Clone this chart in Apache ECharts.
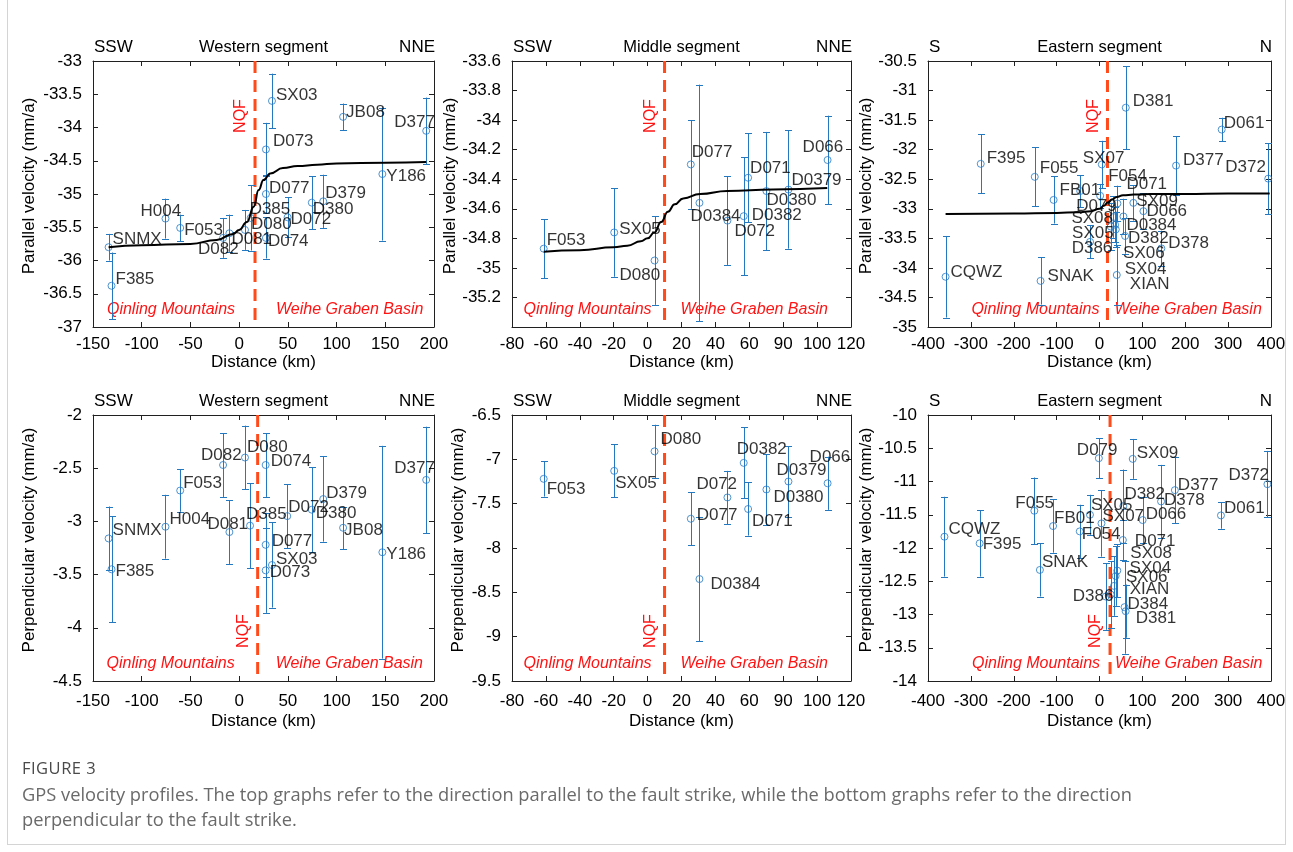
<!DOCTYPE html>
<html>
<head>
<meta charset="utf-8">
<script src="https://cdn.jsdelivr.net/npm/echarts@6/dist/echarts.min.js"></script>
<style>
html,body{margin:0;padding:0;background:#fff;}
#frame{position:absolute;left:7px;top:-2px;width:1279px;height:847px;border:1px solid #d4d4d4;box-sizing:border-box;}
#chart{position:absolute;left:0;top:0;width:1293px;height:852px;}
#fig{position:absolute;left:22px;top:757px;font-family:"Open Sans",sans-serif;font-size:16.5px;color:#4a4a4a;letter-spacing:0.5px;line-height:22px;white-space:nowrap;}
#cap{position:absolute;left:22px;top:781px;font-family:"Open Sans",sans-serif;font-size:18.3px;color:#6a6a6a;line-height:25px;white-space:nowrap;}
</style>
</head>
<body>
<div id="frame"></div>
<div id="chart"></div>
<div id="fig">FIGURE 3</div>
<div id="cap">GPS velocity profiles. The top graphs refer to the direction parallel to the fault strike, while the bottom graphs refer to the direction<br>perpendicular to the fault strike.</div>
<script>
// ---------------- DATA ----------------
// tick labels
const xTicksW = ['-150','-100','-50','0','50','100','150','200'];
const xTicksM = ['-80','-60','-40','-20','0','20','40','60','90','100','120'];
const xTicksE = ['-400','-300','-200','-100','0','100','200','300','400'];
const yTicksWPar = ['-37','-36.5','-36','-35.5','-35','-34.5','-34','-33.5','-33'];
const yTicksMPar = ['','-35.2','-35','-34.8','-34.6','-34.4','-34.2','-34','-33.8','-33.6'];
const yTicksEPar = ['-35','-34.5','-34','-33.5','-33','-32.5','-32','-31.5','-31','-30.5'];
const yTicksWPer = ['-4.5','-4','-3.5','-3','-2.5','-2'];
const yTicksMPer = ['-9.5','-9','-8.5','-8','-7.5','-7','-6.5'];
const yTicksEPer = ['-14','-13.5','-13','-12.5','-12','-11.5','-11','-10.5','-10'];

// NQF fault position (km) per panel: WPar, MPar, EPar, WPer, MPer, EPer
const nqfPos = [16.3, 10, 18.6, 19, 10, 24.6];

// Western segment, parallel
const wParNames = ['SNMX','F385','H004','F053','D082','D081','D080','D385','D077','D073','D074','SX03','D072','D380','D379','JB08','Y186','D377'];
const wParDist  = [-134,-131,-75.6,-60.5,-16.5,-10,6,11.8,27.5,27.5,27.5,33.7,49.7,74.6,86.3,106.7,147,192];
const wParVel   = [-35.80,-36.38,-35.37,-35.51,-35.66,-35.59,-35.54,-35.36,-35.00,-34.33,-35.66,-33.60,-35.35,-35.13,-35.11,-33.84,-34.70,-34.05];
const wParErr   = [0.2,0.5,0.3,0.2,0.3,0.28,0.3,0.49,0.29,0.4,0.31,0.41,0.3,0.4,0.4,0.2,1.0,0.5];
const wCurveDist = [-134,-100,-50,-23,-6,0,8,15,20,25,32,45,60,80,100,150,192];
const wCurveVel  = [-35.80,-35.77,-35.75,-35.69,-35.60,-35.54,-35.42,-35.19,-34.94,-34.79,-34.69,-34.61,-34.58,-34.56,-34.54,-34.53,-34.52];

// Middle segment, parallel
const mParNames = ['F053','SX05','D080','D077','D0384','D072','D0382','D071','D0380','D0379','D066'];
const mParDist  = [-61.3,-19.7,4.1,25.5,30.6,47.1,56.7,59.3,70.1,83.1,106.2];
const mParVel   = [-34.87,-34.76,-34.95,-34.30,-34.56,-34.68,-34.65,-34.39,-34.48,-34.47,-34.27];
const mParErr   = [0.2,0.3,0.3,0.3,0.8,0.3,0.4,0.3,0.4,0.4,0.3];
const mCurveDist = [-61.3,-40,-20,-12,-4,0,4,8,12,16,21,31,47,74,106];
const mCurveVel  = [-34.89,-34.88,-34.86,-34.85,-34.82,-34.80,-34.76,-34.69,-34.62,-34.57,-34.53,-34.50,-34.48,-34.47,-34.46];

// Eastern segment, parallel
const eParNames = ['CQWZ','F395','F055','SNAK','FB01','F054','SX05','D079','SX07','D386','SX08','SX06','SX04','XIAN','D071','D0384','D382','D381','SX09','D066','D378','D377','D061','D372'];
const eParDist  = [-359,-277,-151,-137.5,-107,-45,-22,1.5,5.4,26,32.5,36.4,40.3,38,41.8,55.8,59.7,61.3,79,102.4,144.3,178.5,285,393.6];
const eParVel   = [-34.15,-32.24,-32.46,-34.22,-32.85,-32.70,-33.56,-32.78,-32.25,-33.30,-33.14,-33.27,-34.12,-33.35,-32.91,-33.13,-33.46,-31.29,-32.90,-33.04,-33.67,-32.27,-31.66,-32.49];
const eParErr   = [0.69,0.5,0.5,0.4,0.4,0.27,0.28,0.2,0.4,0.4,0.35,0.3,0.5,0.3,0.3,0.3,0.3,0.7,0.3,0.3,0.3,0.5,0.2,0.6];
const eCurveDist = [-359,-200,-100,-50,-20,0,10,20,30,40,55,80,120,200,300,397];
const eCurveVel  = [-33.09,-33.08,-33.07,-33.06,-33.04,-33.00,-32.95,-32.89,-32.84,-32.80,-32.77,-32.76,-32.75,-32.75,-32.74,-32.74];

// Western segment, perpendicular
const wPerNames = ['SNMX','F385','H004','F053','D082','D081','D080','D385','D074','D077','D073','SX03','D072','D380','D379','JB08','Y186','D377'];
const wPerDist  = [-134,-131,-75.6,-60.5,-16.5,-10,6,11.2,27.2,27.2,27.2,33.7,49.4,74.6,86.3,106.7,147,192];
const wPerVel   = [-3.16,-3.45,-3.05,-2.71,-2.47,-3.10,-2.40,-3.04,-2.47,-3.22,-3.46,-3.41,-2.95,-2.89,-2.79,-3.06,-3.29,-2.61];
const wPerErr   = [0.3,0.5,0.3,0.2,0.3,0.3,0.3,0.4,0.3,0.3,0.4,0.4,0.3,0.4,0.4,0.2,1.0,0.5];

// Middle segment, perpendicular
const mPerNames = ['F053','SX05','D080','D077','D0384','D072','D0382','D071','D0380','D0379','D066'];
const mPerDist  = [-61.3,-19.7,4.1,25.5,30.6,47.1,56.7,59.3,70.1,83.1,106.2];
const mPerVel   = [-7.22,-7.13,-6.91,-7.67,-8.35,-7.43,-7.04,-7.56,-7.34,-7.25,-7.27];
const mPerErr   = [0.2,0.3,0.3,0.3,0.7,0.3,0.4,0.3,0.4,0.4,0.3];

// Eastern segment, perpendicular
const ePerNames = ['CQWZ','F395','F055','SNAK','FB01','F054','SX05','D079','SX07','D386','XIAN','SX06','SX04','SX08','D071','D382','D384','D381','SX09','D066','D378','D377','D061','D372'];
const ePerDist  = [-361.6,-279.5,-152,-139,-108.3,-46,-22.3,-1.5,4.6,14.6,26.1,33.8,37.6,41.5,54.5,55.7,58.4,61,77.5,100.6,143.6,175.8,283.3,391.6];
const ePerVel   = [-11.83,-11.93,-11.44,-12.33,-11.67,-11.75,-11.50,-10.65,-11.63,-12.73,-12.70,-12.57,-12.42,-12.34,-11.88,-11.37,-12.89,-12.95,-10.66,-11.58,-11.30,-11.13,-11.51,-11.04];
const ePerErr   = [0.6,0.5,0.5,0.4,0.4,0.4,0.3,0.3,0.5,0.5,0.5,0.45,0.45,0.4,0.3,0.55,0.7,0.4,0.3,0.35,0.55,0.5,0.2,0.5];

// ---------------- STYLE (label offsets in px, layout) ----------------
const offWPar = {SNMX:[4,-8],F385:[4,-6],H004:[-25,-7],F053:[4,2],D082:[-25,11],D081:[2,6],D080:[6,-6],D385:[-1,-9],D077:[3,-6],D073:[7,-8],D074:[2,3],SX03:[4,-6],D072:[3,2],D380:[1,7],D379:[2,-8],JB08:[3,-5],Y186:[4,2],D377:[-32,-9]};
const offMPar = {F053:[3,-8],SX05:[5,-3],D080:[-35,15],D077:[1,-12],D0384:[-9,13],D072:[7,11],D0382:[8,-1],D071:[2,-9],D0380:[0,9],D0379:[3,-9],D066:[-25,-13]};
const offEPar = {CQWZ:[5,-4],F395:[6,-6],F055:[5,-9],SNAK:[7,-5],FB01:[6,-10],F054:[28,-15],SX05:[-18,-9],D079:[-24,11],SX07:[-19,-6],D386:[-39,22],SX08:[-42,1],SX06:[8,29],SX04:[8,-6],XIAN:[14,55],D071:[9,-19],D0384:[3,9],D382:[3,2],D381:[7,-6],SX09:[3,-2],D066:[3,0],D378:[7,-5],D377:[7,-5],D061:[2,-6],D372:[-43,-11]};
const offWPer = {SNMX:[4,-8],F385:[4,2],H004:[4,-7],F053:[3,-7],D082:[-22,-10],D081:[-22,-8],D080:[2,-10],D385:[-4,-11],D074:[5,-4],D077:[6,-3],D073:[4,2],SX03:[4,-6],D072:[1,-9],D380:[4,4],D379:[3,-6],JB08:[1,3],Y186:[4,2],D377:[-32,-12]};
const offMPer = {F053:[3,10],SX05:[1,12],D080:[6,-12],D077:[6,-3],D0384:[11,5],D072:[-31,-13],D0382:[-7,-14],D071:[4,12],D0380:[7,8],D0379:[-12,-11],D066:[-18,-26]};
const offEPer = {CQWZ:[4,-7],F395:[3,1],F055:[-19,-7],SNAK:[2,-8],FB01:[1,-8],F054:[2,3],SX05:[1,-9],D079:[-22,-8],SX07:[1,-7],D386:[-33,0],XIAN:[19,-5],SX06:[12,-9],SX04:[14,-8],SX08:[13,-17],D071:[12,1],D382:[1,-12],D384:[3,-3],D381:[10,7],SX09:[4,-6],D066:[3,-6],D378:[3,-1],D377:[3,-5],D061:[3,-7],D372:[-39,-9]};

const FONT = 'Arial, "Liberation Sans", Helvetica, sans-serif';
const BLUE = '#2378c0';
const AX = '#202020';
const TXT = '#000000';
const NQF_C = '#ff4a1a';
const RED = '#ff1414';

const colX = [{left:93,width:341},{left:512,width:339},{left:928,width:343}];
const rowY = [{top:61,height:266},{top:415,height:266}];

const panels = [
  {c:0,r:0,xt:xTicksW,xmin:-150,xmax:200,xi:50,yt:yTicksWPar,ymin:-37,ymax:-33,yi:0.5,yName:'Parallel velocity (mm/a)',yGap:55,names:wParNames,dist:wParDist,vel:wParVel,err:wParErr,cd:wCurveDist,cv:wCurveVel,nqf:nqfPos[0],ends:['SSW','NNE'],title:'Western segment',off:offWPar,reg:[-20,21]},
  {c:1,r:0,xt:xTicksM,xmin:-80,xmax:120,xi:20,yt:yTicksMPar,ymin:-35.4,ymax:-33.6,yi:0.2,yName:'Parallel velocity (mm/a)',yGap:45,names:mParNames,dist:mParDist,vel:mParVel,err:mParErr,cd:mCurveDist,cv:mCurveVel,nqf:nqfPos[1],ends:['SSW','NNE'],title:'Middle segment',off:offMPar,reg:[-13,16]},
  {c:2,r:0,xt:xTicksE,xmin:-400,xmax:400,xi:100,yt:yTicksEPar,ymin:-35,ymax:-30.5,yi:0.5,yName:'Parallel velocity (mm/a)',yGap:47,names:eParNames,dist:eParDist,vel:eParVel,err:eParErr,cd:eCurveDist,cv:eCurveVel,nqf:nqfPos[2],ends:['S','N'],title:'Eastern segment',off:offEPar,reg:[-8,7]},
  {c:0,r:1,xt:xTicksW,xmin:-150,xmax:200,xi:50,yt:yTicksWPer,ymin:-4.5,ymax:-2,yi:0.5,yName:'Perpendicular velocity (mm/a)',yGap:55,names:wPerNames,dist:wPerDist,vel:wPerVel,err:wPerErr,nqf:nqfPos[3],ends:['SSW','NNE'],title:'Western segment',off:offWPer,reg:[-23,18]},
  {c:1,r:1,xt:xTicksM,xmin:-80,xmax:120,xi:20,yt:yTicksMPer,ymin:-9.5,ymax:-6.5,yi:0.5,yName:'Perpendicular velocity (mm/a)',yGap:45,names:mPerNames,dist:mPerDist,vel:mPerVel,err:mPerErr,nqf:nqfPos[4],ends:['SSW','NNE'],title:'Middle segment',off:offMPer,reg:[-13,16]},
  {c:2,r:1,xt:xTicksE,xmin:-400,xmax:400,xi:100,yt:yTicksEPer,ymin:-14,ymax:-10,yi:0.5,yName:'Perpendicular velocity (mm/a)',yGap:46,names:ePerNames,dist:ePerDist,vel:ePerVel,err:ePerErr,nqf:nqfPos[5],ends:['S','N'],title:'Eastern segment',off:offEPer,reg:[-10,5]}
];

function tickFmt(arr, min, step){ return function(v){ const i=Math.round((v-min)/step); return (i>=0&&i<arr.length)?arr[i]:''; }; }

function errRender(params, api){
  const x=api.value(0), y=api.value(1), e=api.value(2);
  const t=api.coord([x,y+e]), b=api.coord([x,y-e]);
  const cx=Math.round(t[0])+0.5, cw=3.5;
  const st={stroke:BLUE,lineWidth:1};
  return {type:'group',children:[
    {type:'line',shape:{x1:cx,y1:t[1],x2:cx,y2:b[1]},style:st},
    {type:'line',shape:{x1:cx-cw,y1:Math.round(t[1])+0.5,x2:cx+cw,y2:Math.round(t[1])+0.5},style:st},
    {type:'line',shape:{x1:cx-cw,y1:Math.round(b[1])+0.5,x2:cx+cw,y2:Math.round(b[1])+0.5},style:st}
  ]};
}

function decorRender(p){
  return function(params, api){
    const cs=params.coordSys;
    const lx=api.coord([api.value(0), api.value(1)])[0];
    const top=cs.y, bot=cs.y+cs.height, left=cs.x, right=cs.x+cs.width;
    const font='16px '+FONT, ifont='italic 16px '+FONT;
    const T=(text,x,y,align,fill,f,rot)=>({type:'text',x:x,y:y,rotation:rot||0,style:{text:text,align:align,verticalAlign:'middle',fill:fill,font:f}});
    const ch=[];
    ch.push({type:'line',shape:{x1:lx,y1:top,x2:lx,y2:bot},style:{stroke:NQF_C,lineWidth:3,lineDash:[12,7]}});
    ch.push(T(p.ends[0],left+1,top-14,'left',TXT,'17px '+FONT));
    ch.push(T(p.ends[1],right+1,top-14,'right',TXT,'17px '+FONT));
    ch.push(T(p.title,(left+right)/2,top-14,'center',TXT,'16.5px '+FONT));
    const ny = p.r===0 ? top+55 : bot-50;
    ch.push(T('NQF',lx-14,ny,'center',RED,font,Math.PI/2));
    const ry = bot-17;
    ch.push(T('Qinling Mountains',lx+p.reg[0],ry,'right',RED,ifont));
    ch.push(T('Weihe Graben Basin',lx+p.reg[1],ry,'left',RED,ifont));
    return {type:'group',children:ch};
  };
}

const grid=[], xAxis=[], yAxis=[], series=[];
panels.forEach((p,i)=>{
  const gx=colX[p.c], gy=rowY[p.r];
  grid.push({left:gx.left,top:gy.top,width:gx.width,height:gy.height,containLabel:false});
  const axLine={show:true,onZero:false,lineStyle:{color:AX,width:1}};
  const tick={show:true,inside:true,length:5,lineStyle:{color:AX,width:1}};
  const lblStyle={color:TXT,fontSize:17,fontFamily:FONT};
  xAxis.push({gridIndex:i,type:'value',position:'bottom',min:p.xmin,max:p.xmax,interval:p.xi,
    axisLine:axLine,axisTick:tick,splitLine:{show:false},
    axisLabel:Object.assign({formatter:tickFmt(p.xt,p.xmin,p.xi),margin:p.r===0?9:12,showMinLabel:true,showMaxLabel:true},lblStyle),
    name:'Distance (km)',nameLocation:'middle',nameGap:p.r===0?27:32,nameTextStyle:lblStyle});
  xAxis.push({gridIndex:i,type:'value',position:'top',min:p.xmin,max:p.xmax,interval:p.xi,
    axisLine:axLine,axisTick:tick,splitLine:{show:false},axisLabel:{show:false}});
  yAxis.push({gridIndex:i,type:'value',position:'left',min:p.ymin,max:p.ymax,interval:p.yi,
    axisLine:axLine,axisTick:tick,splitLine:{show:false},
    axisLabel:Object.assign({formatter:tickFmt(p.yt,p.ymin,p.yi),margin:11,showMinLabel:true,showMaxLabel:true},lblStyle),
    name:p.yName,nameLocation:'middle',nameGap:p.yGap,nameTextStyle:Object.assign({padding:[0,0,0,16]},lblStyle)});
  yAxis.push({gridIndex:i,type:'value',position:'right',min:p.ymin,max:p.ymax,interval:p.yi,
    axisLine:axLine,axisTick:tick,splitLine:{show:false},axisLabel:{show:false}});
  const xi=2*i, yi=2*i;
  series.push({type:'custom',xAxisIndex:xi,yAxisIndex:yi,renderItem:decorRender(p),data:[[p.nqf,p.ymin]],z:2,silent:true,clip:false});
  series.push({type:'custom',xAxisIndex:xi,yAxisIndex:yi,renderItem:errRender,
    data:p.dist.map((d,k)=>[d,p.vel[k],p.err[k]]),z:3,silent:true});
  series.push({type:'scatter',xAxisIndex:xi,yAxisIndex:yi,symbol:'circle',symbolSize:7,silent:true,z:4,
    itemStyle:{color:'rgba(255,255,255,0)',borderColor:BLUE,borderWidth:1},
    label:{show:true,position:'inside',align:'left',verticalAlign:'middle',formatter:'{b}',color:TXT,fontSize:17,fontFamily:FONT},
    data:p.names.map((n,k)=>({name:n,value:[p.dist[k],p.vel[k]],label:{offset:(p.off[n]||[4,-6])}}))});
  if(p.cd){
    series.push({type:'line',xAxisIndex:xi,yAxisIndex:yi,showSymbol:false,smooth:true,smoothMonotone:'x',silent:true,z:5,
      lineStyle:{color:'#000',width:2},data:p.cd.map((d,k)=>[d,p.cv[k]])});
  }
});

const chart=echarts.init(document.getElementById('chart'),null,{renderer:'canvas'});
chart.setOption({animation:false,backgroundColor:'transparent',grid,xAxis,yAxis,series});
</script>
</body>
</html>
